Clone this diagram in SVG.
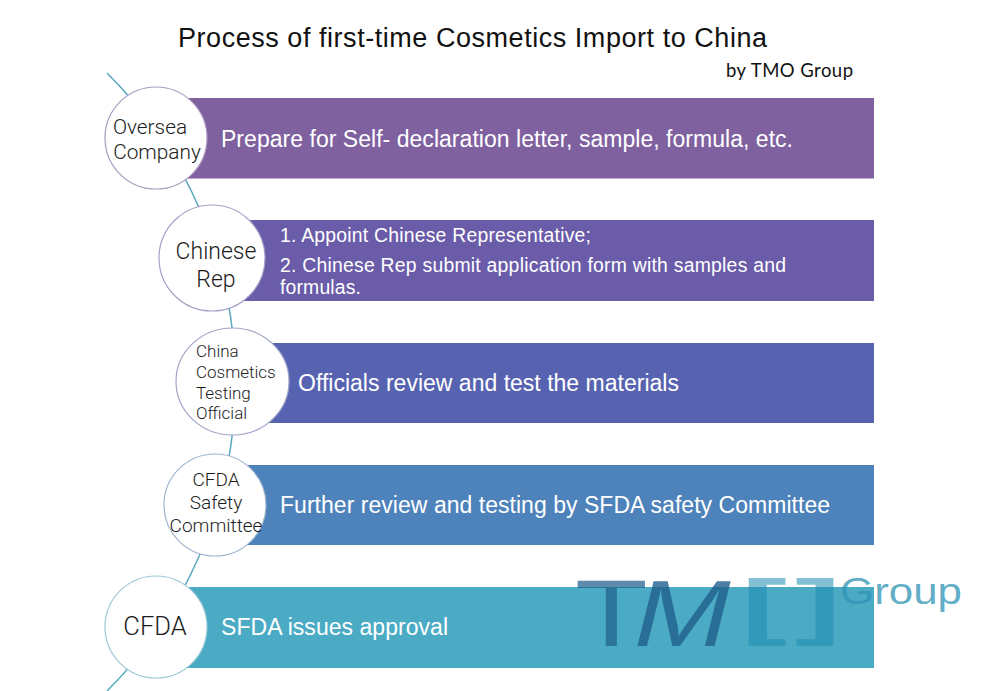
<svg xmlns="http://www.w3.org/2000/svg" width="1000" height="691" viewBox="0 0 1000 691">
<style>
text{font-family:"Liberation Sans",Arial,sans-serif}
.bt{fill:#fff;font-size:23px}
.bs{fill:#fff;font-size:19.4px}
.c{fill:#fff;stroke-width:1.2}
.n{font-family:Roboto,"Liberation Sans",sans-serif;font-weight:300;fill:#1c1c1c;text-anchor:middle}
.logo{font-family:"Liberation Sans",sans-serif;stroke-linejoin:round}
</style>
<rect width="1000" height="691" fill="#fff"/>
<text x="178" y="47" font-size="27" fill="#111" textLength="589">Process of first-time Cosmetics Import to China</text>
<text x="726" y="77" font-size="18.500" fill="#111" style="font-family:Lato,'Open Sans',sans-serif" textLength="127">by TMO Group</text>
<g id="connectors"><path d="M107,73A436,436 0 0 1 107,691" fill="none" stroke="#58a9c0" stroke-width="1.500"/></g>
<g id="node-oversea">
<rect x="156" y="98" width="718" height="80.500" fill="#8061a0"/>
<circle class="c" cx="156" cy="138" r="51" stroke="#a99bc0"/>
<text class="n" x="150" y="134" font-size="20.800">Oversea</text><text class="n" x="157" y="159" font-size="20.800">Company</text>
<text class="bt" x="221" y="147" textLength="572">Prepare for Self- declaration letter, sample, formula, etc.</text>
</g>
<g id="node-rep">
<rect x="212" y="220" width="662" height="81" fill="#6a5ca9"/>
<circle class="c" cx="212" cy="258" r="53" stroke="#a5a0c8"/>
<text class="n" x="216" y="259" font-size="23">Chinese</text><text class="n" x="216" y="287" font-size="23">Rep</text>
<text class="bs" x="280" y="242" textLength="311">1. Appoint Chinese Representative;</text>
<text class="bs" x="280" y="272" textLength="506">2. Chinese Rep submit application form with samples and</text>
<text class="bs" x="280" y="294" textLength="81">formulas.</text>
</g>
<g id="node-official">
<rect x="232" y="343" width="642" height="80" fill="#5763b0"/>
<ellipse class="c" cx="232.500" cy="381.500" rx="56.500" ry="53.500" stroke="#a0a5c8"/>
<text class="n" style="text-anchor:start" x="196" y="357" font-size="17">China</text>
<text class="n" style="text-anchor:start" x="196" y="378" font-size="17">Cosmetics</text>
<text class="n" style="text-anchor:start" x="196" y="399" font-size="17">Testing</text>
<text class="n" style="text-anchor:start" x="196" y="419" font-size="17">Official</text>
<text class="bt" x="298" y="391" textLength="381">Officials review and test the materials</text>
</g>
<g id="node-safety">
<rect x="215" y="465" width="659" height="80" fill="#4e82ba"/>
<circle class="c" cx="215" cy="505" r="51" stroke="#9fb5cf"/>
<text class="n" x="216" y="486" font-size="19">CFDA</text><text class="n" x="216" y="509" font-size="19">Safety</text><text class="n" x="216" y="532" font-size="19">Committee</text>
<text class="bt" x="280" y="513" textLength="550">Further review and testing by SFDA safety Committee</text>
</g>
<g id="node-cfda">
<rect x="156" y="587" width="718" height="81" fill="#4babc5"/>
<circle class="c" cx="156" cy="627" r="51" stroke="#9cc9d6"/>
<text class="n" x="155" y="635" font-size="25.500">CFDA</text>
<text class="bt" x="221" y="635" textLength="227">SFDA issues approval</text>
</g>
<g id="logo" class="logo">
<text transform="translate(575,646) scale(1.24,.98)" font-size="96" fill="#1f5f8b" fill-opacity=".72">T</text>
<text transform="translate(628,646) skewX(-14) scale(1.2,.98)" font-size="96" fill="#1f5f8b" fill-opacity=".8">M</text>
<text transform="translate(741,631) scale(1.9,1)" font-size="73" font-weight="700" fill="#1f8bb0" fill-opacity=".55">[</text>
<text transform="translate(795,631) scale(1.9,1)" font-size="73" font-weight="700" fill="#1f8bb0" fill-opacity=".55">]</text>
<text x="840" y="604" font-size="36" fill="#2f93b5" fill-opacity=".75" textLength="122" lengthAdjust="spacingAndGlyphs">Group</text>
</g>
</svg>
